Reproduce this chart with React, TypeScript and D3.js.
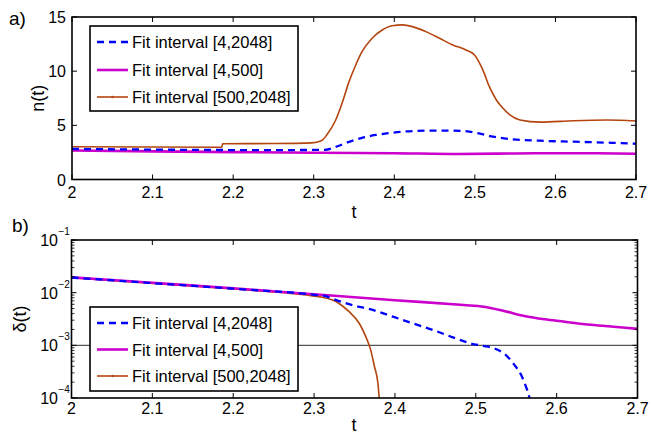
import React from 'react';
import * as d3 from 'd3';

// ---------- data ----------
const tTicks = [2, 2.1, 2.2, 2.3, 2.4, 2.5, 2.6, 2.7];
const nTicks = [0, 5, 10, 15];
const deltaDecades = [1e-4, 1e-3, 1e-2, 1e-1];
const deltaDecadeExp = ['−4', '−3', '−2', '−1'];
const legendLabels = ['Fit interval [4,2048]', 'Fit interval [4,500]', 'Fit interval [500,2048]'];
const threshold = [1e-3];

// panel a) n(t)
const tBlueN = [2.0, 2.1, 2.2, 2.27, 2.314, 2.327, 2.343, 2.36, 2.377, 2.3975, 2.4225, 2.4475, 2.4725, 2.493, 2.505, 2.5225, 2.5475, 2.581, 2.6225, 2.664, 2.7];
const nBlue = [2.82, 2.76, 2.72, 2.72, 2.74, 3.0, 3.45, 3.85, 4.11, 4.32, 4.47, 4.51, 4.51, 4.42, 4.25, 3.95, 3.71, 3.58, 3.49, 3.4, 3.3];

const tMagN = [2.0, 2.1, 2.2, 2.3, 2.4, 2.48, 2.55, 2.6, 2.65, 2.7];
const nMag = [2.68, 2.6, 2.53, 2.47, 2.43, 2.36, 2.4, 2.43, 2.42, 2.37];

const tBrownN = [2.0, 2.1, 2.186, 2.187, 2.25, 2.2975, 2.31, 2.317, 2.327, 2.335, 2.343, 2.352, 2.36, 2.3725, 2.385, 2.3975, 2.41, 2.4225, 2.439, 2.456, 2.4725, 2.489, 2.4996, 2.51, 2.518, 2.5267, 2.535, 2.5434, 2.556, 2.581, 2.6225, 2.664, 2.7];
const nBrown = [3.03, 3.0, 2.98, 3.3, 3.32, 3.38, 3.6, 4.2, 5.45, 7.0, 8.85, 10.55, 11.8, 13.04, 13.8, 14.2, 14.27, 14.11, 13.65, 13.04, 12.42, 11.96, 11.5, 10.1, 8.57, 7.34, 6.57, 5.96, 5.5, 5.3, 5.43, 5.49, 5.4];

// panel b) delta(t)
const tMagD = [2.0, 2.1, 2.2, 2.3, 2.4, 2.485, 2.51, 2.535, 2.56, 2.585, 2.61, 2.635, 2.66, 2.685, 2.7];
const dMag = [0.0195, 0.0154, 0.0121, 0.0093, 0.0072, 0.00583, 0.00542, 0.00449, 0.00361, 0.00312, 0.00281, 0.00251, 0.00233, 0.00216, 0.00205];

const tBlueD = [2.0, 2.1, 2.2, 2.3, 2.315, 2.3267, 2.3475, 2.3725, 2.3975, 2.4225, 2.4475, 2.4725, 2.4934, 2.508, 2.5225, 2.537, 2.5475, 2.556, 2.562, 2.566, 2.568];
const dBlue = [0.0194, 0.0152, 0.0119, 0.0091, 0.0085, 0.0073, 0.0058, 0.0047, 0.0035, 0.0026, 0.00195, 0.0014, 0.00109, 0.00098, 0.00088, 0.00066, 0.00043, 0.000275, 0.000165, 0.000107, 0.00008];

const tBrownD = [2.0, 2.1, 2.2, 2.29, 2.31, 2.327, 2.343, 2.356, 2.364, 2.37, 2.3746, 2.379, 2.381];
const dBrown = [0.0192, 0.015, 0.0117, 0.009, 0.0082, 0.0068, 0.0044, 0.0026, 0.00146, 0.00082, 0.0004, 0.00019, 0.00008];

// ---------- styles ----------
const BLUE = '#0000ff';
const MAG = '#cc00cc';
const BROWN = '#b4450f';
const FONT = '"Liberation Sans", Arial, Helvetica, sans-serif';

const W = 651;
const H = 437;

const seriesStyles = [
  { color: BLUE, width: 2.3, dash: '7,5' },
  { color: MAG, width: 2.6, dash: undefined as string | undefined },
  { color: BROWN, width: 1.6, dash: undefined as string | undefined },
];

function zip(xs: number[], ys: number[]): [number, number][] {
  return xs.map((x, i) => [x, ys[i]]);
}

function Legend({ x, y, w, h, rows }: { x: number; y: number; w: number; h: number; rows: number[] }) {
  return (
    <g>
      <rect x={x} y={y} width={w} height={h} fill="#fff" stroke="#000" strokeWidth={1.6} />
      {legendLabels.map((lab, i) => {
        const s = seriesStyles[i];
        const ry = rows[i];
        return (
          <g key={lab}>
            <line x1={x + 7} x2={x + 38} y1={ry} y2={ry} stroke={s.color} strokeWidth={s.width} strokeDasharray={s.dash} />
            {i === 2 && <circle cx={x + 22.5} cy={ry} r={1.2} fill={BROWN} />}
            <text x={x + 42} y={ry + 6} fontSize={16.5} fontFamily={FONT} fill="#000">
              {lab}
            </text>
          </g>
        );
      })}
    </g>
  );
}

export default function App() {
  // panel a
  const ax = d3.scaleLinear().domain([2, 2.7]).range([72, 636]);
  const ay = d3.scaleLinear().domain([0, 15]).range([179.5, 17]);
  // panel b
  const bx = d3.scaleLinear().domain([2, 2.7]).range([71.5, 637.5]);
  const by = d3.scaleLog().domain([1e-4, 1e-1]).range([398, 240]);

  const lineA = d3.line<[number, number]>().x((d) => ax(d[0])).y((d) => ay(d[1])).curve(d3.curveMonotoneX);
  const lineB = d3.line<[number, number]>().x((d) => bx(d[0])).y((d) => by(d[1])).curve(d3.curveMonotoneX);

  const aSeries = [zip(tBlueN, nBlue), zip(tMagN, nMag), zip(tBrownN, nBrown)];
  const bSeries = [zip(tBlueD, dBlue), zip(tMagD, dMag), zip(tBrownD, dBrown)];

  const [ax0, ax1] = ax.range();
  const [ay0, ay1] = ay.range();
  const [bx0, bx1] = bx.range();
  const [by0, by1] = by.range();

  const minorB: number[] = [];
  deltaDecades.slice(0, 3).forEach((d) => {
    for (let k = 2; k <= 9; k++) minorB.push(d * k);
  });

  const drawOrder = [2, 1, 0];

  return (
    <svg width={W} height={H} style={{ position: 'absolute', left: 0, top: 0, background: '#fff' }} fontFamily={FONT}>
      <rect x={0} y={0} width={W} height={H} fill="#fff" />
      <defs>
        <clipPath id="clipA">
          <rect x={ax0} y={ay1} width={ax1 - ax0} height={ay0 - ay1} />
        </clipPath>
        <clipPath id="clipB">
          <rect x={bx0} y={by1} width={bx1 - bx0} height={by0 - by1} />
        </clipPath>
      </defs>

      {/* ---------- panel a ---------- */}
      <g clipPath="url(#clipA)">
        {drawOrder.map((i) => (
          <path key={i} d={lineA(aSeries[i]) || ''} fill="none" stroke={seriesStyles[i].color} strokeWidth={seriesStyles[i].width} strokeDasharray={seriesStyles[i].dash} />
        ))}
      </g>
      <rect x={ax0} y={ay1} width={ax1 - ax0} height={ay0 - ay1} fill="none" stroke="#000" strokeWidth={1.6} />
      {tTicks.map((t) => (
        <g key={'at' + t}>
          <line x1={ax(t)} x2={ax(t)} y1={ay0} y2={ay0 - 5} stroke="#000" strokeWidth={1} />
          <line x1={ax(t)} x2={ax(t)} y1={ay1} y2={ay1 + 5} stroke="#000" strokeWidth={1} />
          <text x={ax(t)} y={198} textAnchor="middle" fontSize={16}>
            {String(t)}
          </text>
        </g>
      ))}
      {nTicks.map((n) => (
        <g key={'an' + n}>
          <line x1={ax0} x2={ax0 + 5} y1={ay(n)} y2={ay(n)} stroke="#000" strokeWidth={1} />
          <line x1={ax1} x2={ax1 - 5} y1={ay(n)} y2={ay(n)} stroke="#000" strokeWidth={1} />
          <text x={66} y={ay(n) + 6} textAnchor="end" fontSize={16}>
            {String(n)}
          </text>
        </g>
      ))}
      <text x={354} y={218} textAnchor="middle" fontSize={18}>t</text>
      <text transform={`translate(44,${(ay0 + ay1) / 2}) rotate(-90)`} textAnchor="middle" fontSize={18}>n(t)</text>
      <text x={9} y={25} fontSize={19}>a)</text>
      <Legend x={90} y={26} w={208} h={85} rows={[42, 70, 97]} />

      {/* ---------- panel b ---------- */}
      {threshold.map((v) => (
        <line key={'thr' + v} x1={bx0} x2={bx1} y1={by(v)} y2={by(v)} stroke="#555" strokeWidth={1.3} />
      ))}
      <g clipPath="url(#clipB)">
        {drawOrder.map((i) => (
          <path key={i} d={lineB(bSeries[i]) || ''} fill="none" stroke={seriesStyles[i].color} strokeWidth={seriesStyles[i].width} strokeDasharray={seriesStyles[i].dash} />
        ))}
      </g>
      <rect x={bx0} y={by1} width={bx1 - bx0} height={by0 - by1} fill="none" stroke="#000" strokeWidth={1.6} />
      {tTicks.map((t) => (
        <g key={'bt' + t}>
          <line x1={bx(t)} x2={bx(t)} y1={by0} y2={by0 - 5} stroke="#000" strokeWidth={1} />
          <line x1={bx(t)} x2={bx(t)} y1={by1} y2={by1 + 5} stroke="#000" strokeWidth={1} />
          <text x={bx(t)} y={414} textAnchor="middle" fontSize={16}>
            {String(t)}
          </text>
        </g>
      ))}
      {minorB.map((v, i) => (
        <g key={'bm' + i}>
          <line x1={bx0} x2={bx0 + 3} y1={by(v)} y2={by(v)} stroke="#000" strokeWidth={0.8} />
          <line x1={bx1} x2={bx1 - 3} y1={by(v)} y2={by(v)} stroke="#000" strokeWidth={0.8} />
        </g>
      ))}
      {deltaDecades.map((v, i) => (
        <g key={'bd' + v}>
          <line x1={bx0} x2={bx0 + 5} y1={by(v)} y2={by(v)} stroke="#000" strokeWidth={1} />
          <line x1={bx1} x2={bx1 - 5} y1={by(v)} y2={by(v)} stroke="#000" strokeWidth={1} />
          <text x={58} y={by(v) + 6} textAnchor="end" fontSize={16}>10</text>
          <text x={58.5} y={by(v) - 5} textAnchor="start" fontSize={10}>{deltaDecadeExp[i]}</text>
        </g>
      ))}
      <text x={354} y={431} textAnchor="middle" fontSize={18}>t</text>
      <text transform={`translate(26,${(by0 + by1) / 2}) rotate(-90)`} textAnchor="middle" fontSize={18}>δ(t)</text>
      <text x={12} y={232} fontSize={19}>b)</text>
      <Legend x={90} y={307} w={208} h={84} rows={[323, 349.5, 376]} />
    </svg>
  );
}
